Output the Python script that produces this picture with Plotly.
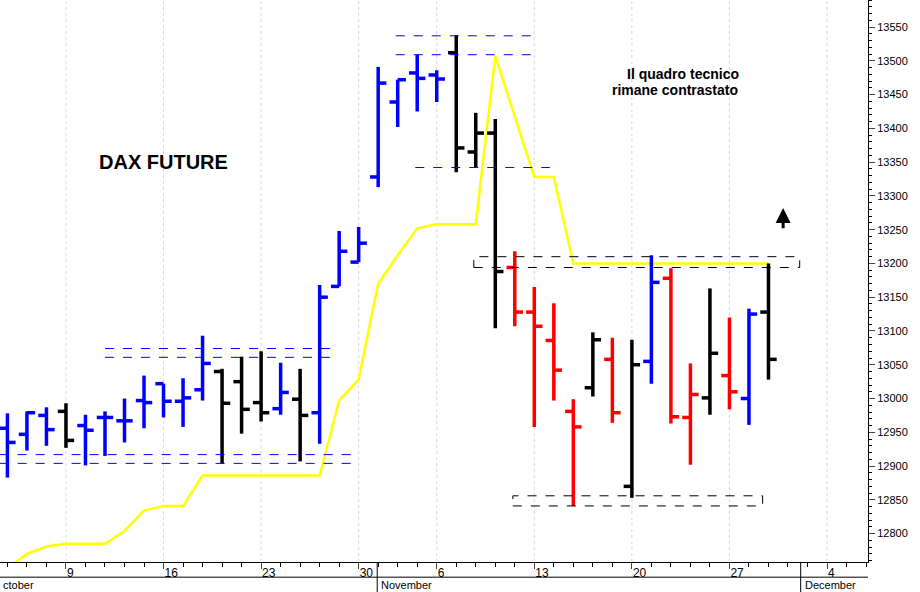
import plotly.graph_objects as go

# trading-day position index (Oct 9 = 4, Oct 31 holiday skipped)
idx = list(range(1, 41))
opens = [12956,12947,12975,12981,12960,12972,12967,12997,13022,12996,13013,13040,13025,12994,12985,12999,12979,13166,13202,13328,
         13439,13482,13479,13512,13365,13393,13194,13128,13086,12981,13016,13058,12870,13055,13178,12972,13001,13034,13000,13128]
highs = [12978,12981,12987,12993,12976,12981,13000,13034,13022,13030,13093,13044,13062,13070,13053,13044,13168,13248,13254,13491,
         13472,13509,13486,13538,13423,13414,13218,13165,13141,12999,13098,13090,13087,13212,13193,13052,13163,13120,13133,13200]
lows = [12883,12923,12930,12927,12901,12915,12935,12956,12972,12958,12997,12904,12948,12966,12976,12907,12933,13166,13202,13313,
        13402,13425,13439,13335,13342,13104,13107,12958,12997,12841,13003,12964,12853,13022,12963,12902,12976,12984,12961,13028]
closes = [12935,12979,12954,12938,12953,12972,12967,12994,12996,13001,13052,12993,12984,12979,13009,12975,13150,13218,13230,13467,
          13472,13474,13473,13371,13393,13188,13128,13107,13042,12958,13087,12979,13050,13172,12973,13006,13067,13010,13125,13058]
colors = ["b","b","b","k","b","b","b","b","b","b","b","k","k","k","b","k","b","b","b","b",
          "b","b","b","k","k","k","r","r","r","r","k","r","k","b","r","r","k","r","b","k"]
stop_line = [12748,12770,12781,12785,12785,12785,12804,12834,12841,12841,12886,12886,12886,12886,12886,12886,12886,12997,13028,13170,
             13212,13252,13258,13258,13258,13507,13418,13328,13328,13200,13200,13200,13200,13200,13200,13200,13200,13200,13200,13200]
tick_pos = [4, 9, 14, 19, 23, 28, 33, 38, 43]
tick_text = ["9", "16", "23", "30", "6", "13", "20", "27", "4"]
months = [("ctober", 0.65), ("November", 20.05), ("December", 41.75)]

cmap = {"b": "#0000ff", "k": "#000000", "r": "#ff0000"}
fig = go.Figure()
fig.add_trace(go.Scatter(x=idx, y=stop_line, mode="lines", line=dict(color="#ffff00", width=2.5),
                         hoverinfo="skip", showlegend=False))
w = 0.42
for c in ["b", "k", "r"]:
    xs, ys = [], []
    for i, o, h, l, cl, cc in zip(idx, opens, highs, lows, closes, colors):
        if cc != c:
            continue
        xs += [i, i, None, i - w, i, None, i, i + w, None]
        ys += [l, h, None, o, o, None, cl, cl, None]
    fig.add_trace(go.Scatter(x=xs, y=ys, mode="lines", line=dict(color=cmap[c], width=3.5),
                             hoverinfo="skip", showlegend=False))

def hline(x0, x1, y, color):
    fig.add_shape(type="line", x0=x0, x1=x1, y0=y, y1=y, line=dict(color=color, width=1, dash="dash"))

for y in (13074, 13061):
    hline(6.0, 17.9, y, "#0000ff")
for y in (12917, 12904):
    hline(0.6, 18.9, y, "#0000ff")
for y in (13537, 13509):
    hline(20.9, 27.9, y, "#0000ff")
hline(21.9, 28.8, 13342, "#0000ff")
fig.add_shape(type="rect", x0=24.9, x1=41.6, y0=13194, y1=13210, line=dict(color="black", width=1, dash="dash"))
fig.add_shape(type="rect", x0=26.9, x1=39.7, y0=12841, y1=12856, line=dict(color="black", width=1, dash="dash"))

for t in tick_pos:
    fig.add_shape(type="line", x0=t, x1=t, y0=0, y1=1, yref="paper", layer="below",
                  line=dict(color="#d8d8d8", width=1, dash="dot"))

# second axis row (months)
fig.add_shape(type="line", x0=0, x1=1, xref="paper", y0=-0.027, y1=-0.027, yref="paper",
              line=dict(color="black", width=1))
for name, xm in months:
    if name != "ctober":
        fig.add_shape(type="line", x0=xm - 0.1, x1=xm - 0.1, y0=0, y1=-0.06, yref="paper",
                      line=dict(color="black", width=1))
    fig.add_annotation(x=xm, y=-0.027, yref="paper", text=name, showarrow=False,
                       xanchor="left", yanchor="top", font=dict(size=11, color="black"))

fig.add_annotation(x=9.0, y=13350, text="<b>DAX FUTURE</b>", showarrow=False,
                   font=dict(size=20, color="black"))
fig.add_annotation(x=35.6, y=13480, text="<b>Il quadro tecnico</b>", showarrow=False,
                   font=dict(size=14, color="black"))
fig.add_annotation(x=35.2, y=13457, text="<b>rimane contrastato</b>", showarrow=False,
                   font=dict(size=14, color="black"))
fig.add_annotation(x=40.75, y=13282, ax=40.75, ay=13250, xref="x", yref="y", axref="x", ayref="y",
                   text="", showarrow=True, arrowhead=2, arrowsize=1, arrowwidth=3, arrowcolor="black")

fig.update_layout(
    width=920, height=592, margin=dict(l=0, r=52, t=0, b=30),
    paper_bgcolor="white", plot_bgcolor="white",
    font=dict(family="Liberation Sans, Arial", size=12, color="black"),
    xaxis=dict(range=[0.62, 45.1], tickvals=tick_pos, ticktext=tick_text, ticks="outside", ticklen=6,
               ticklabelposition="outside right", showgrid=False, zeroline=False,
               showline=True, linecolor="black", linewidth=1,
               minor=dict(dtick=1, ticks="outside", ticklen=4, tickcolor="black", showgrid=False),
               tickfont=dict(size=12)),
    yaxis=dict(range=[12758, 13590], side="right", dtick=50, tickformat="d", ticks="outside", ticklen=6,
               showgrid=False, zeroline=False, showline=True, linecolor="black", linewidth=1,
               minor=dict(dtick=10, ticks="outside", ticklen=3, tickcolor="black"),
               tickfont=dict(size=11)),
)
fig.write_html("out.html", config={"displayModeBar": False},
               post_script="document.body.style.margin='0';document.body.style.overflow='hidden';")
